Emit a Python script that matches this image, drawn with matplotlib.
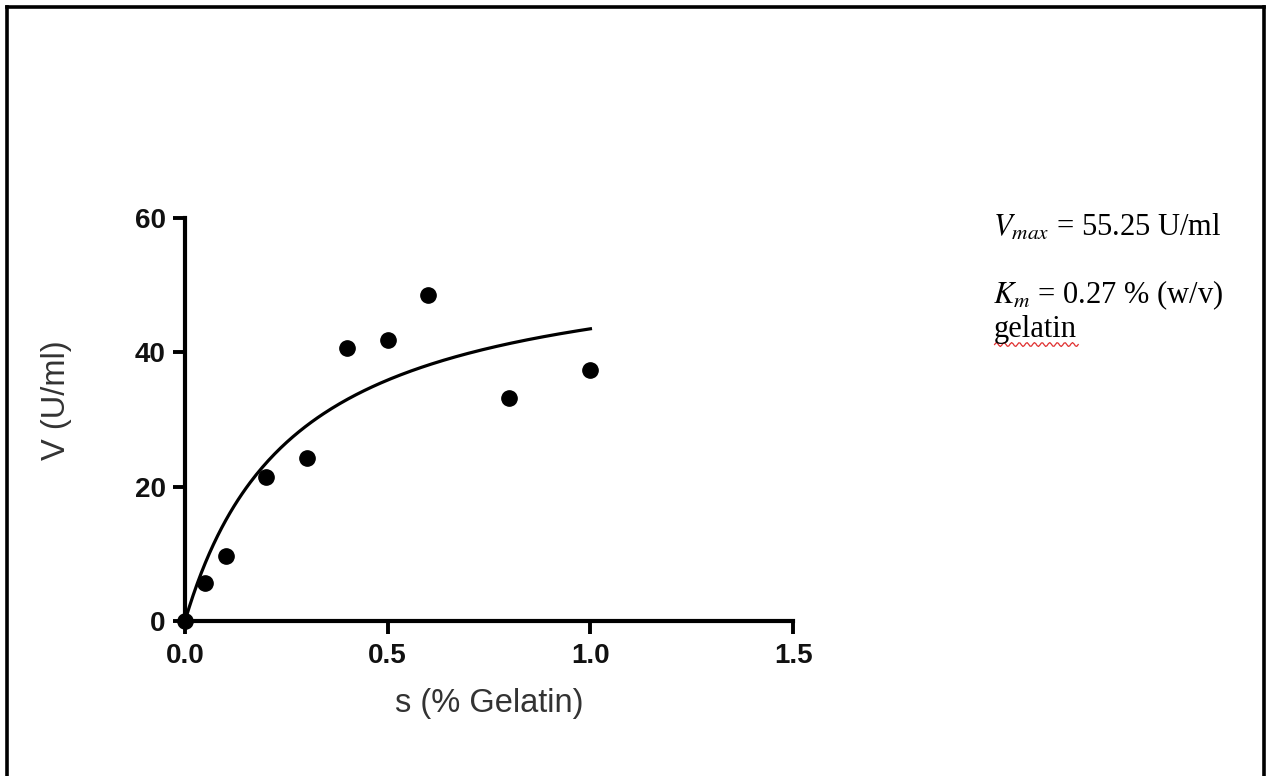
import matplotlib.pyplot as plt
import numpy as np
from matplotlib.lines import Line2D

plt.rcParams['font.family'] = ['Liberation Sans', 'DejaVu Sans']
plt.rcParams['mathtext.fontset'] = 'stix'

# substrate concentration (% gelatin) and measured activity (U/ml)
s = [0.0, 0.05, 0.1, 0.2, 0.3, 0.4, 0.5, 0.6, 0.8, 1.0]
v = [0.0, 5.7, 9.7, 21.4, 24.3, 40.7, 41.8, 48.5, 33.2, 37.4]

# Michaelis-Menten fit
vmax = 55.25
km = 0.27

xticks = [0.0, 0.5, 1.0, 1.5]
yticks = [0, 20, 40, 60]

fig = plt.figure(figsize=(12.67, 7.76), dpi=100)
ax = fig.add_axes([0.146, 0.1997, 0.48, 0.5194])

sfit = np.linspace(0, 1.0, 200)
ax.plot(sfit, vmax * sfit / (km + sfit), color='black', lw=2.3, clip_on=False)
ax.plot(s, v, 'o', color='black', markersize=11, clip_on=False, zorder=3)

ax.set_xlim(0, 1.5)
ax.set_ylim(0, 60)
ax.set_xticks(xticks)
ax.set_xticklabels(['%.1f' % t for t in xticks])
ax.set_yticks(yticks)
for side in ['top', 'right']:
    ax.spines[side].set_visible(False)
for side in ['left', 'bottom']:
    ax.spines[side].set_linewidth(3)
ax.tick_params(direction='out', length=9, width=2.8, labelsize=20)
ax.tick_params(axis='x', pad=7)
ax.tick_params(axis='y', pad=5)
for lab in ax.get_xticklabels() + ax.get_yticklabels():
    lab.set_fontweight('bold')
    lab.set_color('#111111')

ax.set_xlabel('s (% Gelatin)', fontsize=23.5, color='#333333')
ax.set_ylabel('V (U/ml)', fontsize=23.5, color='#333333')
ax.xaxis.set_label_coords(0.5, -0.165)
ax.yaxis.set_label_coords(-0.185, 0.548)

# kinetic constants
serif = ['Liberation Serif', 'DejaVu Serif']
fig.text(0.784, 0.706, r'$V_{max}$' + ' = 55.25 U/ml', family=serif,
         fontsize=22, va='center')
fig.text(0.784, 0.619, r'$K_m$' + ' = 0.27 % (w/v)', family=serif,
         fontsize=22, va='center')
fig.text(0.784, 0.575, 'gelatin', family=serif, fontsize=22, va='center')
wx = np.linspace(0.785, 0.851, 60)
wy = 0.556 + 0.0025 * np.sin(np.linspace(0, 2 * np.pi * 11, 60))
fig.add_artist(Line2D(wx, wy, color='#e03030', lw=0.9))

# page frame
for xs, ys in [([0.0055, 0.0055], [0, 0.9915]),
               ([0.0055, 0.9975], [0.9915, 0.9915]),
               ([0.9975, 0.9975], [0, 0.9915])]:
    fig.add_artist(Line2D(xs, ys, color='black', lw=2.6))

fig.savefig('out.png', dpi=100)
